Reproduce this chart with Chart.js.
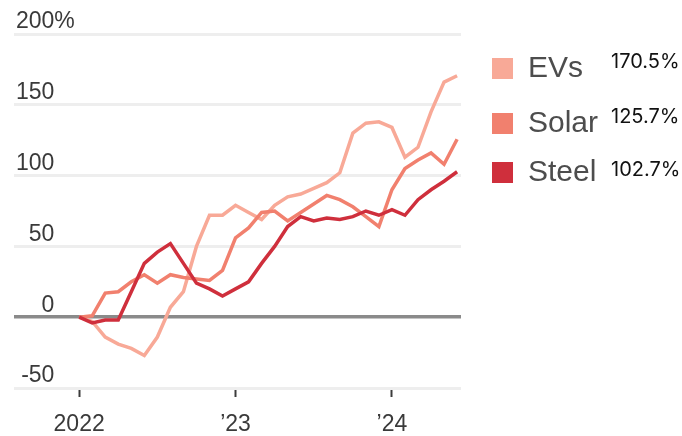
<!DOCTYPE html>
<html>
<head>
<meta charset="utf-8">
<script src="https://cdn.jsdelivr.net/npm/chart.js@4/dist/chart.umd.min.js"></script>
<style>
  html, body { margin: 0; padding: 0; background: #fff; }
  #wrap { width: 682px; height: 436px; position: relative; }
</style>
</head>
<body>
<div id="wrap"><canvas id="c"></canvas></div>
<script>
// Monthly periods, Jan 2022 – Jun 2024
const months = [
  '2022-01','2022-02','2022-03','2022-04','2022-05','2022-06',
  '2022-07','2022-08','2022-09','2022-10','2022-11','2022-12',
  '2023-01','2023-02','2023-03','2023-04','2023-05','2023-06',
  '2023-07','2023-08','2023-09','2023-10','2023-11','2023-12',
  '2024-01','2024-02','2024-03','2024-04','2024-05','2024-06'
];

// Cumulative change since January 2022, percent
const evs = [0, -3, -14, -19, -22, -27, -14, 7, 18, 50, 72, 72,
             79, 74, 69, 79, 85, 87, 91, 95, 102, 130, 137, 138,
             134, 113, 120, 145, 166, 170.5];
const solar = [0, 1, 17, 18, 25, 30, 24, 30, 28, 27, 26, 33,
               56, 63, 74, 75, 68, 74, 80, 86, 83, 78, 71, 64,
               90, 105, 111, 116, 108, 125.7];
const steel = [0, -4, -2, -2, 18, 38, 46, 52, 38, 24, 20, 15,
               20, 25, 38, 50, 64, 71, 68, 70, 69, 71, 75, 72,
               76, 72, 83, 90, 96, 102.7];

const seriesNames = ['EVs', 'Solar', 'Steel'];
const seriesColors = ['#f8a997', '#f1806e', '#cf2f3c'];

// Axis ticks
const yTicks = [-50, 0, 50, 100, 150, 200];
const yTopLabel = '200%';
const xTickMonths = [0, 12, 24];
const xTickLabels = ['2022', '\u201923', '\u201924'];

const labelFamily = "'Liberation Sans', Arial, sans-serif";
const tickFont = { family: labelFamily, size: 23 };
const tickColor = '#3a3a3a';

const toPoints = arr => arr.map((v, i) => ({ x: i, y: v, month: months[i] }));

// Legend with closing values, drawn at the right of the plot
const sideLegend = {
  id: 'sideLegend',
  afterDraw(chart) {
    const ctx = chart.ctx;
    const rows = [
      { box: 58, name: 77, value: 68 },
      { box: 113, name: 132, value: 123 },
      { box: 162, name: 181, value: 176 }
    ];
    ctx.save();
    chart.data.datasets.forEach((ds, i) => {
      const r = rows[i];
      const last = ds.data[ds.data.length - 1].y;
      ctx.fillStyle = ds.borderColor;
      ctx.fillRect(492, r.box, 21, 21);
      ctx.fillStyle = '#4d4d4d';
      ctx.font = "30px " + labelFamily;
      ctx.textAlign = 'left';
      ctx.textBaseline = 'alphabetic';
      ctx.fillText(ds.label, 528, r.name);
      ctx.fillStyle = '#111';
      ctx.font = "20px Inter, Roboto, sans-serif";
      ctx.fillText(last.toFixed(1) + '%', 611, r.value);
    });
    ctx.restore();
  }
};

const datasets = [evs, solar, steel].map((arr, i) => ({
  label: seriesNames[i],
  data: toPoints(arr),
  borderColor: seriesColors[i],
  backgroundColor: seriesColors[i],
  borderWidth: 3.5,
  pointRadius: 0,
  tension: 0,
  fill: false,
  order: 2 - i
}));

new Chart(document.getElementById('c'), {
  type: 'line',
  data: { datasets },
  plugins: [sideLegend],
  options: {
    responsive: true,
    maintainAspectRatio: false,
    devicePixelRatio: 1,
    animation: false,
    layout: { padding: { left: 14, right: 221, top: 34, bottom: 0 } },
    plugins: { legend: { display: false }, tooltip: { enabled: false } },
    scales: {
      x: {
        type: 'linear',
        min: -5,
        max: 29.3,
        afterBuildTicks: s => { s.ticks = xTickMonths.map(v => ({ value: v })); },
        afterFit: s => { s.height = 48; },
        ticks: {
          autoSkip: false,
          maxRotation: 0,
          padding: 14,
          font: tickFont,
          color: tickColor,
          callback: (v, i) => xTickLabels[i]
        },
        grid: {
          drawOnChartArea: false,
          drawTicks: true,
          tickLength: 9,
          tickColor: '#3c3c3c',
          tickWidth: 2
        },
        border: { display: false }
      },
      y: {
        type: 'linear',
        position: 'left',
        min: -50,
        max: 200,
        afterBuildTicks: s => { s.ticks = yTicks.map(v => ({ value: v })); },
        afterFit: s => { s.width = 0; },
        ticks: {
          mirror: true,
          crossAlign: 'far',
          padding: 2,
          labelOffset: -12,
          font: tickFont,
          color: tickColor,
          callback: v => (v === 200 ? '' : String(v))
        },
        grid: {
          drawTicks: false,
          lineWidth: c => (c.tick && c.tick.value === 0 ? 3.5 : 3),
          color: c => (c.tick && c.tick.value === 0 ? '#8a8a8a' : '#eeeeee')
        },
        border: { display: false }
      },
      yTop: {
        type: 'linear',
        position: 'left',
        min: -50,
        max: 200,
        afterBuildTicks: s => { s.ticks = [{ value: 200 }]; },
        afterFit: s => { s.width = 0; },
        ticks: {
          mirror: true,
          crossAlign: 'near',
          padding: 2,
          labelOffset: -12,
          font: tickFont,
          color: tickColor,
          callback: () => yTopLabel
        },
        grid: { display: false },
        border: { display: false }
      }
    }
  }
});
</script>
</body>
</html>
